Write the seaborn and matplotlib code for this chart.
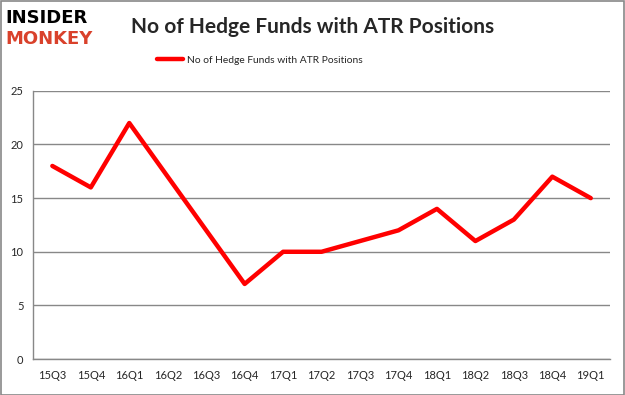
import pandas as pd
import matplotlib
matplotlib.use('Agg')
import matplotlib.pyplot as plt
import seaborn as sns
from matplotlib.patches import Rectangle

# dados do gráfico
trimestres = ["15Q3", "15Q4", "16Q1", "16Q2", "16Q3", "16Q4", "17Q1", "17Q2",
              "17Q3", "17Q4", "18Q1", "18Q2", "18Q3", "18Q4", "19Q1"]
num_fundos = [18, 16, 22, 17, 12, 7, 10, 10, 11, 12, 14, 11, 13, 17, 15]
rotulo_serie = "No of Hedge Funds with ATR Positions"
titulo = "No of Hedge Funds with ATR Positions"
y_ticks = [0, 5, 10, 15, 20, 25]

sns.set_style("white")
plt.rcParams['font.family'] = ['Lato', 'DejaVu Sans']

df = pd.DataFrame({"trimestre": trimestres, "fundos": num_fundos})
df["pos"] = range(len(df))

fig = plt.figure(figsize=(6.25, 3.95), dpi=100)
ax = fig.add_axes([0.053, 0.091, 0.923, 0.679])

sns.lineplot(x="pos", y="fundos", data=df, ax=ax, color="#ff0000",
             linewidth=3.2, label=rotulo_serie)

ax.set_ylim(0, 25)
ax.set_yticks(y_ticks)
ax.set_xlim(-0.5, len(trimestres) - 0.5)
ax.set_xticks(df["pos"])
ax.set_xticklabels(trimestres)
ax.set_xticks([i - 0.5 for i in range(len(trimestres) + 1)], minor=True)
ax.tick_params(axis='x', which='major', length=0, labelsize=8, pad=8)
ax.tick_params(axis='x', which='minor', length=5, color='#888888', direction='out')
ax.tick_params(axis='y', length=4, color='#888888', labelsize=8, pad=3, direction='out')
ax.set_xlabel("")
ax.set_ylabel("")
ax.yaxis.grid(True, color='#888888', linewidth=1)
ax.set_axisbelow(True)
for s in ['top', 'right']:
    ax.spines[s].set_visible(False)
for s in ['left', 'bottom']:
    ax.spines[s].set_color('#888888')
    ax.spines[s].set_linewidth(1)

leg = ax.legend(loc='center', bbox_to_anchor=(0.393, 1.115), frameon=False,
                fontsize=7.4, handlelength=2.5, handletextpad=0.4)

fig.text(0.5, 0.932, titulo, ha='center', va='center', fontsize=15, weight='bold')
fig.text(0.008, 0.955, "INSIDER", ha='left', va='center', fontsize=13,
         weight='heavy', family='DejaVu Sans', color='black')
fig.text(0.008, 0.9, "MONKEY", ha='left', va='center', fontsize=13,
         weight='heavy', family='DejaVu Sans', color='#d9412b')

fig.add_artist(Rectangle((0.001, 0.001), 0.997, 0.997, transform=fig.transFigure,
                         fill=False, edgecolor='#888888', linewidth=1.2))

fig.savefig("out.png", dpi=100)
